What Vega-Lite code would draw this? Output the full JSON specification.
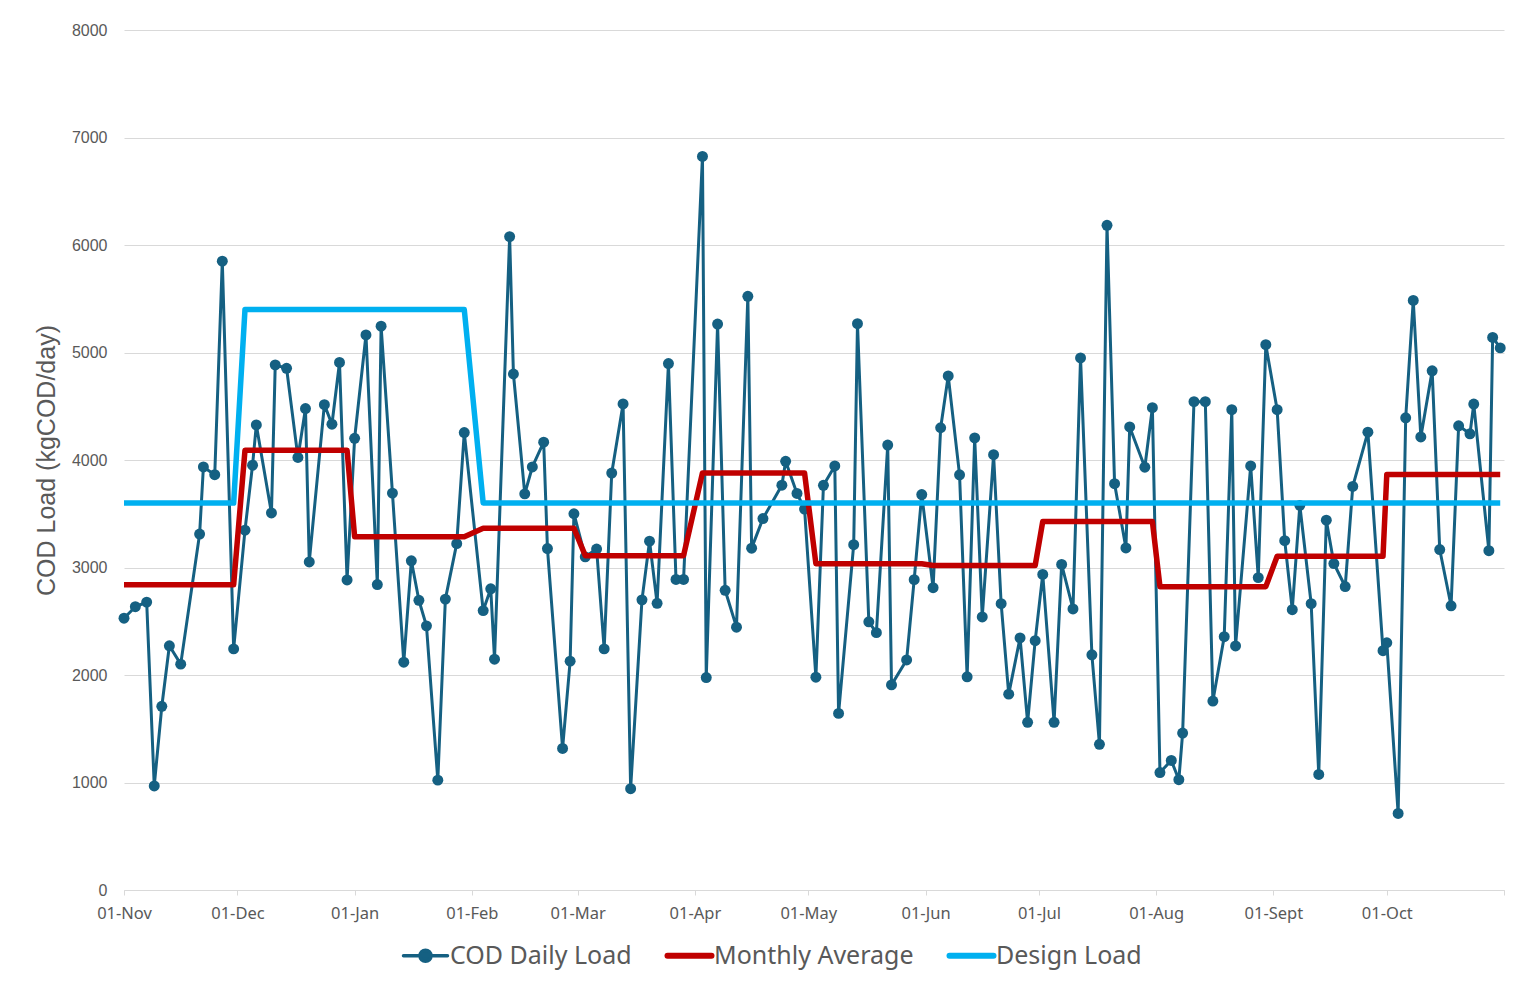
{
  "$schema": "https://vega.github.io/schema/vega-lite/v6.json",
  "description": "COD daily load, monthly average and design load",
  "width": 1380,
  "height": 860,
  "autosize": {"type": "none"},
  "padding": {"left": 124, "top": 30, "right": 24, "bottom": 103},
  "background": "white",
  "config": {"view": {"stroke": null}, "font": "Noto Sans"},
  "data": {
    "values": [
      {"date": "2022-11-01", "cod": 2528, "avg": 2840, "design": 3600},
      {"date": "2022-11-04", "cod": 2635, "avg": 2840, "design": 3600},
      {"date": "2022-11-07", "cod": 2678, "avg": 2840, "design": 3600},
      {"date": "2022-11-09", "cod": 968, "avg": 2840, "design": 3600},
      {"date": "2022-11-11", "cod": 1709, "avg": 2840, "design": 3600},
      {"date": "2022-11-13", "cod": 2272, "avg": 2840, "design": 3600},
      {"date": "2022-11-16", "cod": 2101, "avg": 2840, "design": 3600},
      {"date": "2022-11-21", "cod": 3311, "avg": 2840, "design": 3600},
      {"date": "2022-11-22", "cod": 3935, "avg": 2840, "design": 3600},
      {"date": "2022-11-25", "cod": 3863, "avg": 2840, "design": 3600},
      {"date": "2022-11-27", "cod": 5850, "avg": 2840, "design": 3600},
      {"date": "2022-11-30", "cod": 2243, "avg": 2840, "design": 3600},
      {"date": "2022-12-03", "cod": 3347, "avg": 4090, "design": 5400},
      {"date": "2022-12-05", "cod": 3952, "avg": 4090, "design": 5400},
      {"date": "2022-12-06", "cod": 4326, "avg": 4090, "design": 5400},
      {"date": "2022-12-10", "cod": 3507, "avg": 4090, "design": 5400},
      {"date": "2022-12-11", "cod": 4885, "avg": 4090, "design": 5400},
      {"date": "2022-12-14", "cod": 4853, "avg": 4090, "design": 5400},
      {"date": "2022-12-17", "cod": 4024, "avg": 4090, "design": 5400},
      {"date": "2022-12-19", "cod": 4479, "avg": 4090, "design": 5400},
      {"date": "2022-12-20", "cod": 3052, "avg": 4090, "design": 5400},
      {"date": "2022-12-24", "cod": 4515, "avg": 4090, "design": 5400},
      {"date": "2022-12-26", "cod": 4333, "avg": 4090, "design": 5400},
      {"date": "2022-12-28", "cod": 4907, "avg": 4090, "design": 5400},
      {"date": "2022-12-30", "cod": 2884, "avg": 4090, "design": 5400},
      {"date": "2023-01-01", "cod": 4202, "avg": 3285, "design": 5400},
      {"date": "2023-01-04", "cod": 5163, "avg": 3285, "design": 5400},
      {"date": "2023-01-07", "cod": 2841, "avg": 3285, "design": 5400},
      {"date": "2023-01-08", "cod": 5245, "avg": 3285, "design": 5400},
      {"date": "2023-01-11", "cod": 3692, "avg": 3285, "design": 5400},
      {"date": "2023-01-14", "cod": 2119, "avg": 3285, "design": 5400},
      {"date": "2023-01-16", "cod": 3062, "avg": 3285, "design": 5400},
      {"date": "2023-01-18", "cod": 2695, "avg": 3285, "design": 5400},
      {"date": "2023-01-20", "cod": 2457, "avg": 3285, "design": 5400},
      {"date": "2023-01-23", "cod": 1022, "avg": 3285, "design": 5400},
      {"date": "2023-01-25", "cod": 2706, "avg": 3285, "design": 5400},
      {"date": "2023-01-28", "cod": 3222, "avg": 3285, "design": 5400},
      {"date": "2023-01-30", "cod": 4255, "avg": 3285, "design": 5400},
      {"date": "2023-02-04", "cod": 2599, "avg": 3365, "design": 3600},
      {"date": "2023-02-06", "cod": 2802, "avg": 3365, "design": 3600},
      {"date": "2023-02-07", "cod": 2147, "avg": 3365, "design": 3600},
      {"date": "2023-02-11", "cod": 6078, "avg": 3365, "design": 3600},
      {"date": "2023-02-12", "cod": 4800, "avg": 3365, "design": 3600},
      {"date": "2023-02-15", "cod": 3685, "avg": 3365, "design": 3600},
      {"date": "2023-02-17", "cod": 3935, "avg": 3365, "design": 3600},
      {"date": "2023-02-20", "cod": 4166, "avg": 3365, "design": 3600},
      {"date": "2023-02-21", "cod": 3176, "avg": 3365, "design": 3600},
      {"date": "2023-02-25", "cod": 1317, "avg": 3365, "design": 3600},
      {"date": "2023-02-27", "cod": 2129, "avg": 3365, "design": 3600},
      {"date": "2023-02-28", "cod": 3500, "avg": 3365, "design": 3600},
      {"date": "2023-03-03", "cod": 3099, "avg": 3110, "design": 3600},
      {"date": "2023-03-06", "cod": 3172, "avg": 3110, "design": 3600},
      {"date": "2023-03-08", "cod": 2243, "avg": 3110, "design": 3600},
      {"date": "2023-03-10", "cod": 3879, "avg": 3110, "design": 3600},
      {"date": "2023-03-13", "cod": 4521, "avg": 3110, "design": 3600},
      {"date": "2023-03-15", "cod": 942, "avg": 3110, "design": 3600},
      {"date": "2023-03-18", "cod": 2699, "avg": 3110, "design": 3600},
      {"date": "2023-03-20", "cod": 3245, "avg": 3110, "design": 3600},
      {"date": "2023-03-22", "cod": 2667, "avg": 3110, "design": 3600},
      {"date": "2023-03-25", "cod": 4897, "avg": 3110, "design": 3600},
      {"date": "2023-03-27", "cod": 2889, "avg": 3110, "design": 3600},
      {"date": "2023-03-29", "cod": 2889, "avg": 3110, "design": 3600},
      {"date": "2023-04-03", "cod": 6824, "avg": 3880, "design": 3600},
      {"date": "2023-04-04", "cod": 1976, "avg": 3880, "design": 3600},
      {"date": "2023-04-07", "cod": 5265, "avg": 3880, "design": 3600},
      {"date": "2023-04-09", "cod": 2788, "avg": 3880, "design": 3600},
      {"date": "2023-04-12", "cod": 2445, "avg": 3880, "design": 3600},
      {"date": "2023-04-15", "cod": 5523, "avg": 3880, "design": 3600},
      {"date": "2023-04-16", "cod": 3180, "avg": 3880, "design": 3600},
      {"date": "2023-04-19", "cod": 3455, "avg": 3880, "design": 3600},
      {"date": "2023-04-24", "cod": 3766, "avg": 3880, "design": 3600},
      {"date": "2023-04-25", "cod": 3988, "avg": 3880, "design": 3600},
      {"date": "2023-04-28", "cod": 3689, "avg": 3880, "design": 3600},
      {"date": "2023-04-30", "cod": 3544, "avg": 3880, "design": 3600},
      {"date": "2023-05-03", "cod": 1980, "avg": 3035, "design": 3600},
      {"date": "2023-05-05", "cod": 3765, "avg": 3035, "design": 3600},
      {"date": "2023-05-08", "cod": 3945, "avg": 3035, "design": 3600},
      {"date": "2023-05-09", "cod": 1643, "avg": 3035, "design": 3600},
      {"date": "2023-05-13", "cod": 3212, "avg": 3035, "design": 3600},
      {"date": "2023-05-14", "cod": 5268, "avg": 3035, "design": 3600},
      {"date": "2023-05-17", "cod": 2495, "avg": 3035, "design": 3600},
      {"date": "2023-05-19", "cod": 2394, "avg": 3035, "design": 3600},
      {"date": "2023-05-22", "cod": 4139, "avg": 3035, "design": 3600},
      {"date": "2023-05-23", "cod": 1908, "avg": 3035, "design": 3600},
      {"date": "2023-05-27", "cod": 2140, "avg": 3035, "design": 3600},
      {"date": "2023-05-29", "cod": 2887, "avg": 3035, "design": 3600},
      {"date": "2023-05-31", "cod": 3679, "avg": 3035, "design": 3600},
      {"date": "2023-06-03", "cod": 2812, "avg": 3018, "design": 3600},
      {"date": "2023-06-05", "cod": 4300, "avg": 3018, "design": 3600},
      {"date": "2023-06-07", "cod": 4782, "avg": 3018, "design": 3600},
      {"date": "2023-06-10", "cod": 3862, "avg": 3018, "design": 3600},
      {"date": "2023-06-12", "cod": 1983, "avg": 3018, "design": 3600},
      {"date": "2023-06-14", "cod": 4206, "avg": 3018, "design": 3600},
      {"date": "2023-06-16", "cod": 2540, "avg": 3018, "design": 3600},
      {"date": "2023-06-19", "cod": 4049, "avg": 3018, "design": 3600},
      {"date": "2023-06-21", "cod": 2663, "avg": 3018, "design": 3600},
      {"date": "2023-06-23", "cod": 1822, "avg": 3018, "design": 3600},
      {"date": "2023-06-26", "cod": 2345, "avg": 3018, "design": 3600},
      {"date": "2023-06-28", "cod": 1560, "avg": 3018, "design": 3600},
      {"date": "2023-06-30", "cod": 2319, "avg": 3018, "design": 3600},
      {"date": "2023-07-02", "cod": 2936, "avg": 3428, "design": 3600},
      {"date": "2023-07-05", "cod": 1560, "avg": 3428, "design": 3600},
      {"date": "2023-07-07", "cod": 3029, "avg": 3428, "design": 3600},
      {"date": "2023-07-10", "cod": 2614, "avg": 3428, "design": 3600},
      {"date": "2023-07-12", "cod": 4950, "avg": 3428, "design": 3600},
      {"date": "2023-07-15", "cod": 2188, "avg": 3428, "design": 3600},
      {"date": "2023-07-17", "cod": 1355, "avg": 3428, "design": 3600},
      {"date": "2023-07-19", "cod": 6183, "avg": 3428, "design": 3600},
      {"date": "2023-07-21", "cod": 3780, "avg": 3428, "design": 3600},
      {"date": "2023-07-24", "cod": 3182, "avg": 3428, "design": 3600},
      {"date": "2023-07-25", "cod": 4307, "avg": 3428, "design": 3600},
      {"date": "2023-07-29", "cod": 3933, "avg": 3428, "design": 3600},
      {"date": "2023-07-31", "cod": 4487, "avg": 3428, "design": 3600},
      {"date": "2023-08-02", "cod": 1093, "avg": 2822, "design": 3600},
      {"date": "2023-08-05", "cod": 1205, "avg": 2822, "design": 3600},
      {"date": "2023-08-07", "cod": 1026, "avg": 2822, "design": 3600},
      {"date": "2023-08-08", "cod": 1460, "avg": 2822, "design": 3600},
      {"date": "2023-08-11", "cod": 4543, "avg": 2822, "design": 3600},
      {"date": "2023-08-14", "cod": 4543, "avg": 2822, "design": 3600},
      {"date": "2023-08-16", "cod": 1758, "avg": 2822, "design": 3600},
      {"date": "2023-08-19", "cod": 2356, "avg": 2822, "design": 3600},
      {"date": "2023-08-21", "cod": 4468, "avg": 2822, "design": 3600},
      {"date": "2023-08-22", "cod": 2270, "avg": 2822, "design": 3600},
      {"date": "2023-08-26", "cod": 3945, "avg": 2822, "design": 3600},
      {"date": "2023-08-28", "cod": 2906, "avg": 2822, "design": 3600},
      {"date": "2023-08-30", "cod": 5073, "avg": 2822, "design": 3600},
      {"date": "2023-09-02", "cod": 4468, "avg": 3105, "design": 3600},
      {"date": "2023-09-04", "cod": 3250, "avg": 3105, "design": 3600},
      {"date": "2023-09-06", "cod": 2607, "avg": 3105, "design": 3600},
      {"date": "2023-09-08", "cod": 3578, "avg": 3105, "design": 3600},
      {"date": "2023-09-11", "cod": 2663, "avg": 3105, "design": 3600},
      {"date": "2023-09-13", "cod": 1075, "avg": 3105, "design": 3600},
      {"date": "2023-09-15", "cod": 3440, "avg": 3105, "design": 3600},
      {"date": "2023-09-17", "cod": 3037, "avg": 3105, "design": 3600},
      {"date": "2023-09-20", "cod": 2823, "avg": 3105, "design": 3600},
      {"date": "2023-09-22", "cod": 3754, "avg": 3105, "design": 3600},
      {"date": "2023-09-26", "cod": 4259, "avg": 3105, "design": 3600},
      {"date": "2023-09-30", "cod": 2226, "avg": 3105, "design": 3600},
      {"date": "2023-10-01", "cod": 2300, "avg": 3866, "design": 3600},
      {"date": "2023-10-04", "cod": 712, "avg": 3866, "design": 3600},
      {"date": "2023-10-06", "cod": 4393, "avg": 3866, "design": 3600},
      {"date": "2023-10-08", "cod": 5484, "avg": 3866, "design": 3600},
      {"date": "2023-10-10", "cod": 4214, "avg": 3866, "design": 3600},
      {"date": "2023-10-13", "cod": 4830, "avg": 3866, "design": 3600},
      {"date": "2023-10-15", "cod": 3167, "avg": 3866, "design": 3600},
      {"date": "2023-10-18", "cod": 2644, "avg": 3866, "design": 3600},
      {"date": "2023-10-20", "cod": 4318, "avg": 3866, "design": 3600},
      {"date": "2023-10-23", "cod": 4244, "avg": 3866, "design": 3600},
      {"date": "2023-10-24", "cod": 4520, "avg": 3866, "design": 3600},
      {"date": "2023-10-28", "cod": 3156, "avg": 3866, "design": 3600},
      {"date": "2023-10-29", "cod": 5140, "avg": 3866, "design": 3600},
      {"date": "2023-10-31", "cod": 5043, "avg": 3866, "design": 3600}
    ]
  },
  "transform": [{"fold": ["cod", "avg", "design"], "as": ["series", "load"]}],
  "encoding": {
    "x": {
      "field": "date",
      "type": "temporal",
      "scale": {
        "type": "utc",
        "nice": false,
        "domain": [
          {"year": 2022, "month": 11, "date": 1, "utc": true},
          {"year": 2023, "month": 11, "date": 1, "utc": true}
        ]
      },
      "axis": {
        "title": null,
        "grid": false,
        "domainColor": "#d9d9d9",
        "domainWidth": 1,
        "tickColor": "#d9d9d9",
        "tickSize": 5,
        "tickCount": {"interval": "month", "step": 1},
        "labelExpr": "utcyear(datum.value) == 2023 && utcmonth(datum.value) == 10 ? '' : replace(utcFormat(datum.value, '%d-%b'), 'Sep', 'Sept')",
        "labelFont": "Noto Sans",
        "labelFontSize": 16.5,
        "labelColor": "#595959",
        "labelPadding": 10,
        "labelFlush": false,
        "labelOverlap": false
      }
    },
    "y": {
      "field": "load",
      "type": "quantitative",
      "scale": {"domain": [0, 8000], "nice": false},
      "axis": {
        "title": "COD Load (kgCOD/day)",
        "titleFont": "Liberation Sans",
        "titleFontSize": 25,
        "titleFontWeight": "normal",
        "titleColor": "#595959",
        "titlePadding": 12,
        "values": [0, 1000, 2000, 3000, 4000, 5000, 6000, 7000, 8000],
        "format": "d",
        "grid": true,
        "gridColor": "#d9d9d9",
        "gridWidth": 1,
        "domain": false,
        "ticks": false,
        "tickSize": 0,
        "labelPadding": 17,
        "labelFont": "Liberation Sans",
        "labelFontSize": 16,
        "labelColor": "#595959"
      }
    }
  },
  "layer": [
    {
      "transform": [{"filter": "datum.series === 'cod'"}],
      "mark": {
        "type": "line",
        "strokeWidth": 3,
        "strokeJoin": "round",
        "point": {"filled": true, "size": 120, "opacity": 1}
      },
      "encoding": {
        "color": {
          "datum": "COD Daily Load",
          "scale": {
            "domain": ["COD Daily Load", "Monthly Average", "Design Load"],
            "range": ["#156082", "#c00000", "#00b0f0"]
          },
          "legend": {
            "orient": "none",
            "legendX": 289,
            "legendY": 913,
            "direction": "horizontal",
            "title": null,
            "symbolType": "stroke",
            "symbolSize": 1936,
            "symbolStrokeWidth": 5,
            "labelFont": "Noto Sans",
            "labelFontSize": 25,
            "labelColor": "#595959",
            "labelOffset": 12,
            "labelLimit": 400,
            "columnPadding": 23,
            "encode": {
              "symbols": {
                "update": {
                  "shape": {"signal": "datum.value === 'COD Daily Load' ? 'M-1,0L1,0M0.25,0A0.25,0.25,0,1,1,-0.25,0A0.25,0.25,0,1,1,0.25,0Z' : 'stroke'"},
                  "fill": {"signal": "datum.value === 'COD Daily Load' ? '#156082' : 'transparent'"},
                  "strokeWidth": {"signal": "datum.value === 'COD Daily Load' ? 3.5 : 6"},
                  "strokeCap": {"value": "round"}
                }
              }
            }
          }
        }
      }
    },
    {
      "transform": [{"filter": "datum.series === 'avg'"}],
      "mark": {"type": "line", "strokeWidth": 5.5, "strokeJoin": "round"},
      "encoding": {"color": {"datum": "Monthly Average"}}
    },
    {
      "transform": [{"filter": "datum.series === 'design'"}],
      "mark": {"type": "line", "strokeWidth": 5.5, "strokeJoin": "round"},
      "encoding": {"color": {"datum": "Design Load"}}
    }
  ]
}
